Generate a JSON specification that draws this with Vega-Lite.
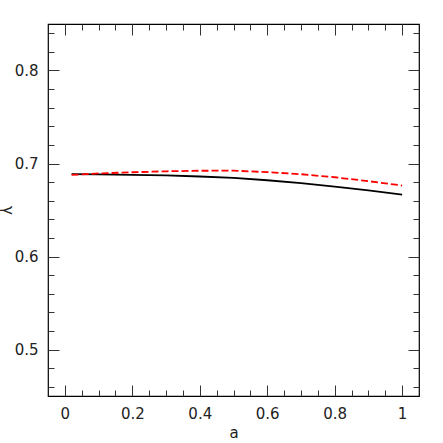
{
  "$schema": "https://vega.github.io/schema/vega-lite/v6.json",
  "width": 371,
  "height": 372,
  "autosize": {"type": "none"},
  "padding": {"left": 48, "top": 24, "right": 24, "bottom": 47},
  "background": "white",
  "config": {
    "view": {"stroke": "black", "strokeWidth": 1.2},
    "axis": {
      "domain": false, "grid": false, "tickColor": "#333", "tickWidth": 1,
      "labelFont": "DejaVu Sans", "labelFontSize": 15, "labelColor": "#222",
      "titleFont": "DejaVu Sans", "titleFontWeight": "normal", "titleFontSize": 15, "titleColor": "#222"
    }
  },
  "datasets": {
    "black": [
      {"a": 0.02, "g": 0.6885}, {"a": 0.1, "g": 0.6882}, {"a": 0.2, "g": 0.6878},
      {"a": 0.3, "g": 0.6872}, {"a": 0.4, "g": 0.686}, {"a": 0.5, "g": 0.6845},
      {"a": 0.6, "g": 0.682}, {"a": 0.7, "g": 0.679}, {"a": 0.8, "g": 0.6752},
      {"a": 0.9, "g": 0.671}, {"a": 1.0, "g": 0.6666}
    ],
    "red": [
      {"a": 0.02, "g": 0.6877}, {"a": 0.1, "g": 0.6893}, {"a": 0.2, "g": 0.6906},
      {"a": 0.3, "g": 0.6916}, {"a": 0.4, "g": 0.6922}, {"a": 0.5, "g": 0.6923},
      {"a": 0.6, "g": 0.6907}, {"a": 0.7, "g": 0.6885}, {"a": 0.8, "g": 0.6852},
      {"a": 0.9, "g": 0.681}, {"a": 1.0, "g": 0.6763}
    ]
  },
  "layer": [
    {
      "data": {"name": "black"},
      "mark": {"type": "line", "color": "black", "strokeWidth": 1.8},
      "encoding": {
        "x": {"field": "a", "type": "quantitative", "scale": {"domain": [-0.05, 1.05], "nice": false, "zero": false},
          "axis": {"orient": "bottom", "values": [0, 0.2, 0.4, 0.6, 0.8, 1], "tickSize": -11, "labelPadding": 21, "format": "~g", "title": "a", "titlePadding": 4}},
        "y": {"field": "g", "type": "quantitative", "scale": {"domain": [0.45, 0.85], "nice": false, "zero": false},
          "axis": {"orient": "left", "values": [0.5, 0.6, 0.7, 0.8], "tickSize": -11, "labelPadding": 21, "format": ".1f", "title": "γ", "titleAngle": 90, "titleX": -41, "titleY": 186, "titleAlign": "center", "titleBaseline": "middle"}}
      }
    },
    {
      "data": {"name": "red"},
      "mark": {"type": "line", "color": "#ff0000", "strokeWidth": 1.8, "strokeDash": [7, 3]},
      "encoding": {
        "x": {"field": "a", "type": "quantitative",
          "axis": {"orient": "top", "values": [0, 0.2, 0.4, 0.6, 0.8, 1], "tickSize": -11, "labels": false, "title": null}},
        "y": {"field": "g", "type": "quantitative",
          "axis": {"orient": "right", "values": [0.5, 0.6, 0.7, 0.8], "tickSize": -11, "labels": false, "title": null}}
      }
    },
    {
      "data": {"name": "black"},
      "mark": {"type": "line", "opacity": 0},
      "encoding": {
        "x": {"field": "a", "type": "quantitative",
          "axis": {"orient": "bottom", "values": [0.05, 0.1, 0.15, 0.25, 0.3, 0.35, 0.45, 0.5, 0.55, 0.65, 0.7, 0.75, 0.85, 0.9, 0.95], "tickSize": -6, "labels": false, "title": null}},
        "y": {"field": "g", "type": "quantitative",
          "axis": {"orient": "left", "values": [0.46, 0.48, 0.52, 0.54, 0.56, 0.58, 0.62, 0.64, 0.66, 0.68, 0.72, 0.74, 0.76, 0.78, 0.82, 0.84], "tickSize": -6, "labels": false, "title": null}}
      }
    },
    {
      "data": {"name": "black"},
      "mark": {"type": "line", "opacity": 0},
      "encoding": {
        "x": {"field": "a", "type": "quantitative",
          "axis": {"orient": "top", "values": [0.05, 0.1, 0.15, 0.25, 0.3, 0.35, 0.45, 0.5, 0.55, 0.65, 0.7, 0.75, 0.85, 0.9, 0.95], "tickSize": -6, "labels": false, "title": null}},
        "y": {"field": "g", "type": "quantitative",
          "axis": {"orient": "right", "values": [0.46, 0.48, 0.52, 0.54, 0.56, 0.58, 0.62, 0.64, 0.66, 0.68, 0.72, 0.74, 0.76, 0.78, 0.82, 0.84], "tickSize": -6, "labels": false, "title": null}}
      }
    }
  ],
  "resolve": {"axis": {"x": "independent", "y": "independent"}}
}
